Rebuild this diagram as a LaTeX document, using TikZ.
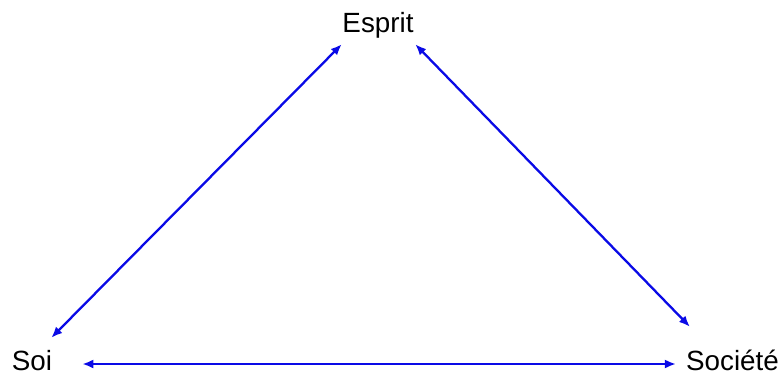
\documentclass[tikz,border=0pt]{standalone}
\usepackage{fontspec}
\setmainfont{Liberation Sans}
\usepackage{xcolor}
\usetikzlibrary{arrows.meta}
\definecolor{linkblue}{RGB}{10,10,230}

\begin{document}
\begin{tikzpicture}[x=1pt, y=-1pt, font=\fontsize{27.8}{33}\selectfont,
  lbl/.style={inner sep=2pt, text height=20pt, text depth=1pt, anchor=base},
  link/.style={draw=linkblue, line width=2.3pt, {Latex[length=11pt,width=9pt]}-{Latex[length=11pt,width=9pt]}}]
  \useasboundingbox (0,0) rectangle (784,374);
  \node[lbl] (esprit) at (378,33) {Esprit};
  \node[lbl] (soi) at (32,370) {Soi};
  \node[lbl] (societe) at (732.5,370) {Société};
  % the three links
  \draw[link] ([shift={(1.5,8)}]esprit.south west) -- ([shift={(-3,-10)}]soi.north east);
  \draw[link] ([shift={(-0.5,8)}]esprit.south east) -- ([shift={(6,-21)}]societe.north west);
  \draw[link, shorten <=28pt, shorten >=8pt] ([yshift=6pt]soi.base east) -- ([yshift=6pt]societe.base west);
\end{tikzpicture}
\end{document}
